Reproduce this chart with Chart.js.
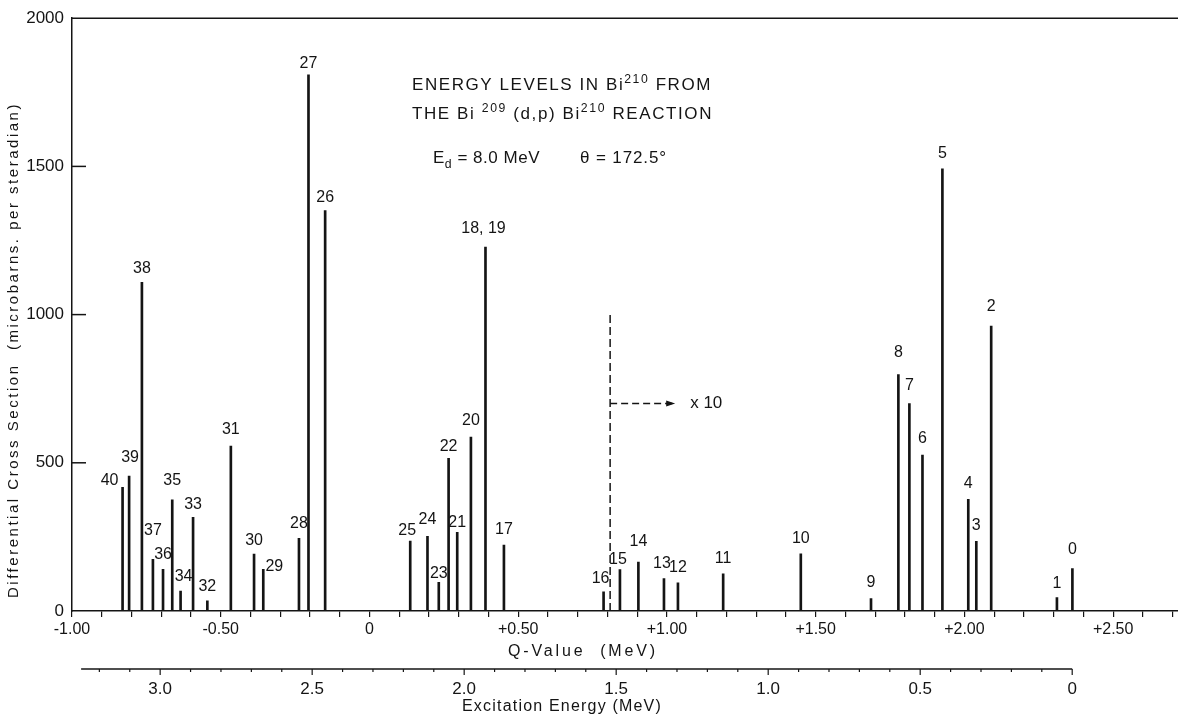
<!DOCTYPE html>
<html>
<head>
<meta charset="utf-8">
<title>Energy levels in Bi210</title>
<script src="https://cdn.jsdelivr.net/npm/chart.js@4.4.1/dist/chart.umd.min.js"></script>
<style>
  html, body { margin: 0; padding: 0; background: #fff; }
  #wrap { width: 1178px; height: 717px; }
</style>
</head>
<body>
<div id="wrap"><canvas id="levelsChart" width="1178" height="717"></canvas></div>
<script>
// level numbers, as printed over each line
var levelNames = ['40','39','38','37','36','35','34','33','32','31','30','29','28','27','26',
  '25','24','23','22','21','20','18, 19','17','16','15','14','13','12','11','10',
  '9','8','7','6','5','4','3','2','1','0'];

// Q-value of each level (MeV)
var qValues = [-0.830, -0.808, -0.765, -0.728, -0.694, -0.663, -0.635, -0.593, -0.545, -0.466,
  -0.388, -0.357, -0.237, -0.205, -0.149,
  0.137, 0.195, 0.233, 0.266, 0.295, 0.341, 0.390, 0.452, 0.787, 0.842,
  0.904, 0.990, 1.037, 1.189, 1.450, 1.686, 1.778, 1.815, 1.859, 1.926,
  2.013, 2.040, 2.090, 2.311, 2.363];

// differential cross section (microbarns per steradian)
var crossSections = [417, 455, 1109, 174, 141, 375, 67, 316, 34, 556,
  192, 141, 245, 1809, 1351,
  236, 252, 97, 515, 265, 587, 1228, 222, 65, 140,
  165, 109, 95, 125, 193, 42, 798, 700, 526, 1492,
  377, 235, 961, 45, 143];

var qTickLabels = ['-1.00', '-0.50', '0', '+0.50', '+1.00', '+1.50', '+2.00', '+2.50'];
var excTickLabels = ['3.0', '2.5', '2.0', '1.5', '1.0', '0.5', '0'];
var yTickValues = [0, 500, 1000, 1500, 2000];

// the "x 10" scale change marker
var scaleChangeQ = 0.809;
var scaleChangeTop = 1004;
var arrowEndQ = 1.021;
var arrowLevel = 700;

// label nudges [dx, dy] from the top of each line (default 0, -15)
var labelNudge = {
  '40': [-13, -7], '39': [1, -19], '38': [0, -14], '37': [0, -29], '35': [0, -19],
  '34': [3, -15], '33': [0, -13], '32': [0, -14], '31': [0, -17], '30': [0, -13],
  '29': [11, -3], '27': [0, -11], '26': [0, -13], '25': [-3, -10], '24': [0, -17],
  '23': [0, -9], '22': [0, -12], '21': [0, -10], '20': [0, -16], '18, 19': [-2, -18],
  '17': [0, -16], '16': [-3, -13], '15': [-2, -10], '14': [0, -21], '13': [-2, -15],
  '9': [0, -16], '8': [0, -22], '7': [0, -18], '6': [0, -16], '4': [0, -16],
  '3': [0, -16], '2': [0, -20], '1': [0, -14], '0': [0, -19]
};

var INK = '#141414';
var FONT = '"Liberation Sans", Arial, sans-serif';

var levelPoints = [];
for (var i = 0; i < qValues.length; i++) {
  levelPoints.push({x: qValues[i], y: crossSections[i]});
}

// text with superscripts / subscripts, stretched to a given width
function drawRich(ctx, parts, x, y, size, width) {
  var natural = 0, chars = 0;
  ctx.letterSpacing = '0px';
  parts.forEach(function(p) {
    ctx.font = (p[1] ? size * 0.72 : size) + 'px ' + FONT;
    natural += ctx.measureText(p[0]).width;
    chars += p[0].length;
  });
  var spacing = width ? Math.max(0, (width - natural) / chars) : 0;
  var cx = x;
  parts.forEach(function(p) {
    ctx.font = (p[1] ? size * 0.72 : size) + 'px ' + FONT;
    ctx.letterSpacing = spacing + 'px';
    var dy = p[1] === 1 ? -size * 0.42 : (p[1] === 2 ? size * 0.28 : 0);
    ctx.fillText(p[0], cx, y + dy);
    cx += ctx.measureText(p[0]).width;
  });
  ctx.letterSpacing = '0px';
}

var decorPlugin = {
  id: 'decor',
  afterDraw: function(chart) {
    var ctx = chart.ctx;
    var xs = chart.scales.x, ys = chart.scales.y, x2 = chart.scales.x2;
    var area = chart.chartArea;
    ctx.save();
    ctx.strokeStyle = INK;
    ctx.fillStyle = INK;
    ctx.lineWidth = 1.5;

    // frame line along the top
    var yTop = ys.getPixelForValue(2000);
    ctx.beginPath();
    ctx.moveTo(area.left, yTop);
    ctx.lineTo(area.right, yTop);
    ctx.stroke();

    // inward ticks on the y axis
    [500, 1000, 1500].forEach(function(v) {
      var py = ys.getPixelForValue(v);
      ctx.beginPath();
      ctx.moveTo(area.left, py);
      ctx.lineTo(area.left + 14, py);
      ctx.stroke();
    });

    // excitation energy axis
    var lineY = x2.top;
    ctx.beginPath();
    ctx.moveTo(x2.getPixelForValue(3.26), lineY);
    ctx.lineTo(x2.getPixelForValue(0), lineY);
    ctx.stroke();
    ctx.lineWidth = 1.2;
    x2.ticks.forEach(function(t) {
      if (t.value < -0.001 || t.value > 3.25) return;
      var px = x2.getPixelForValue(t.value);
      var major = Math.abs(t.value * 2 - Math.round(t.value * 2)) < 0.001;
      ctx.beginPath();
      ctx.moveTo(px, lineY);
      ctx.lineTo(px, lineY + (major ? 6 : 3));
      ctx.stroke();
    });

    // arrow head of the x 10 marker
    var ax = xs.getPixelForValue(arrowEndQ), ay = ys.getPixelForValue(arrowLevel);
    ctx.beginPath();
    ctx.moveTo(ax + 2, ay);
    ctx.lineTo(ax - 7, ay - 3);
    ctx.lineTo(ax - 7, ay + 3);
    ctx.closePath();
    ctx.fill();
    ctx.font = '17px ' + FONT;
    ctx.textAlign = 'left';
    ctx.textBaseline = 'middle';
    ctx.fillText('x 10', ax + 17, ay);

    // level numbers
    ctx.font = '16px ' + FONT;
    ctx.textAlign = 'center';
    ctx.textBaseline = 'middle';
    var meta = chart.getDatasetMeta(0);
    meta.data.forEach(function(bar, i) {
      var n = labelNudge[levelNames[i]] || [0, -15];
      ctx.fillText(levelNames[i], bar.x + n[0], bar.y + n[1]);
    });

    // title block
    ctx.textAlign = 'left';
    ctx.textBaseline = 'alphabetic';
    drawRich(ctx, [['ENERGY LEVELS IN Bi', 0], ['210', 1], [' FROM', 0]], 412, 90, 17, 300);
    drawRich(ctx, [['THE Bi ', 0], ['209', 1], [' (d,p) Bi', 0], ['210', 1], [' REACTION', 0]], 412, 119, 17, 301);
    drawRich(ctx, [['E', 0], ['d', 2], [' = 8.0 MeV', 0]], 433, 163, 17, 107);
    drawRich(ctx, [['\u03b8 = 172.5\u00b0', 0]], 580, 163, 17, 87);

    // axis titles
    ctx.textAlign = 'left';
    drawRich(ctx, [['Q-Value  (MeV)', 0]], 508, 656, 16, 150);
    drawRich(ctx, [['Excitation Energy (MeV)', 0]], 462, 711, 16, 200);
    ctx.translate(18, 350);
    ctx.rotate(-Math.PI / 2);
    drawRich(ctx, [['Differential Cross Section  (microbarns. per steradian)', 0]], -248, 0, 15, 496);
    ctx.restore();
  }
};

var ctx = document.getElementById('levelsChart').getContext('2d');
var chart = new Chart(ctx, {
  type: 'bar',
  data: {
    datasets: [
      {
        data: levelPoints,
        backgroundColor: INK,
        borderWidth: 0,
        barThickness: 2
      },
      {
        type: 'line',
        data: [{x: scaleChangeQ, y: 0}, {x: scaleChangeQ, y: scaleChangeTop}],
        borderColor: INK,
        borderWidth: 1.5,
        borderDash: [8, 4],
        pointRadius: 0
      },
      {
        type: 'line',
        data: [{x: scaleChangeQ, y: arrowLevel}, {x: arrowEndQ, y: arrowLevel}],
        borderColor: INK,
        borderWidth: 1.5,
        borderDash: [7, 4],
        pointRadius: 0
      }
    ]
  },
  options: {
    responsive: false,
    animation: false,
    devicePixelRatio: 1,
    layout: {padding: {left: 0, right: 0, top: 16, bottom: 0}},
    plugins: {
      legend: {display: false},
      tooltip: {enabled: false},
      title: {display: false}
    },
    scales: {
      x: {
        type: 'linear',
        position: 'bottom',
        weight: 0,
        min: -1.0,
        max: 2.718,
        offset: false,
        grid: {display: true, drawOnChartArea: false, drawTicks: true, tickLength: 6, color: INK, lineWidth: 1.2, offset: false},
        border: {display: true, color: INK, width: 1.5},
        ticks: {
          stepSize: 0.1,
          includeBounds: false,
          autoSkip: false,
          maxRotation: 0,
          padding: 3,
          color: INK,
          font: {family: FONT, size: 16},
          callback: function(v) {
            var h = Math.round(v * 2);
            if (Math.abs(v * 2 - h) > 0.001) return '';
            return qTickLabels[h + 2] || '';
          }
        },
        afterFit: function(s) { s.height = 58; }
      },
      x2: {
        type: 'linear',
        position: 'bottom',
        weight: 1,
        reverse: true,
        min: -0.348,
        max: 3.29,
        offset: false,
        grid: {display: false, drawTicks: false},
        border: {display: false},
        ticks: {
          stepSize: 0.1,
          includeBounds: false,
          autoSkip: false,
          maxRotation: 0,
          padding: 10,
          color: INK,
          font: {family: FONT, size: 17},
          callback: function(v) {
            var h = Math.round(v * 2);
            if (Math.abs(v * 2 - h) > 0.001 || h < 0) return '';
            return excTickLabels[6 - h] || '';
          }
        },
        afterFit: function(s) { s.height = 48; }
      },
      y: {
        min: 0,
        max: 2000,
        grid: {display: false, drawTicks: false},
        border: {display: true, color: INK, width: 1.5},
        afterBuildTicks: function(s) {
          s.ticks = yTickValues.map(function(v) { return {value: v}; });
        },
        ticks: {
          padding: 8,
          color: INK,
          font: {family: FONT, size: 17},
          callback: function(v) { return String(v); }
        },
        afterFit: function(s) { s.width = 72; }
      }
    }
  },
  plugins: [decorPlugin]
});
</script>
</body>
</html>
